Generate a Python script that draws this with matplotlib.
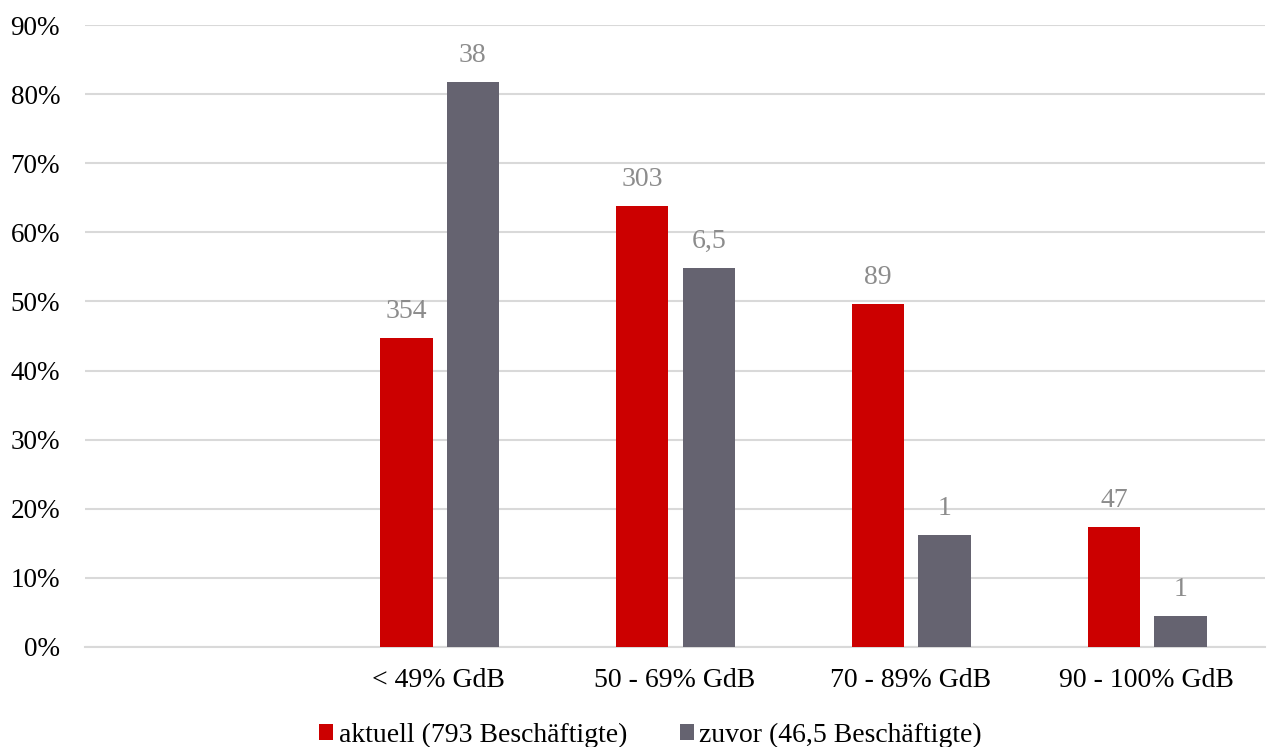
import numpy as np
import matplotlib.pyplot as plt
from matplotlib.ticker import PercentFormatter

plt.rcParams['font.family'] = ['Liberation Serif', 'DejaVu Serif']

categories = ['', '< 49% GdB', '50 - 69% GdB', '70 - 89% GdB', '90 - 100% GdB']
aktuell = [np.nan, 0.447, 0.638, 0.496, 0.174]
zuvor = [np.nan, 0.818, 0.548, 0.162, 0.045]
aktuell_labels = ['', '354', '303', '89', '47']
zuvor_labels = ['', '38', '6,5', '1', '1']

red = '#CC0000'
grey = '#656370'

fig = plt.figure(figsize=(12.71, 7.47), dpi=100)
ax = fig.add_axes([0.0669, 0.1339, 0.928, 0.8326])

x = np.arange(len(categories))
w = 0.222
gap = 0.06
off = (w + gap) / 2
b1 = ax.bar(x - off + 0.003, aktuell, w, color=red, label='aktuell (793 Beschäftigte)', zorder=3)
b2 = ax.bar(x + off + 0.003, zuvor, w, color=grey, label='zuvor (46,5 Beschäftigte)', zorder=3)

for bars, labels in [(b1, aktuell_labels), (b2, zuvor_labels)]:
    for bar, lab in zip(bars, labels):
        if lab:
            ax.annotate(lab, (bar.get_x() + bar.get_width() / 2, bar.get_height()),
                        xytext=(0, 10), textcoords='offset points', ha='center', va='bottom',
                        fontsize=20, color='#8c8c8c')

ax.set_xlim(-0.5, len(categories) - 0.5)
ax.set_ylim(0, 0.9)
ax.set_yticks(np.arange(0, 0.91, 0.1))
ax.yaxis.set_major_formatter(PercentFormatter(1.0, decimals=0))
ax.set_xticks(x)
ax.set_xticklabels(categories)
ax.tick_params(axis='x', length=0, labelsize=20, pad=15)
ax.tick_params(axis='y', length=0, labelsize=19.5, pad=18)
ax.grid(axis='y', color='#d9d9d9', linewidth=1.5, zorder=0)
for s in ['top', 'right', 'left']:
    ax.spines[s].set_visible(False)
ax.spines['bottom'].set_color('#d9d9d9')
ax.spines['bottom'].set_linewidth(1.5)

fig.legend(loc='lower center', bbox_to_anchor=(0.512, -0.035), ncol=2, frameon=False,
           fontsize=20, handlelength=0.5, handleheight=0.5, handletextpad=0.2,
           columnspacing=1.9)

fig.savefig('out.png', dpi=100)
